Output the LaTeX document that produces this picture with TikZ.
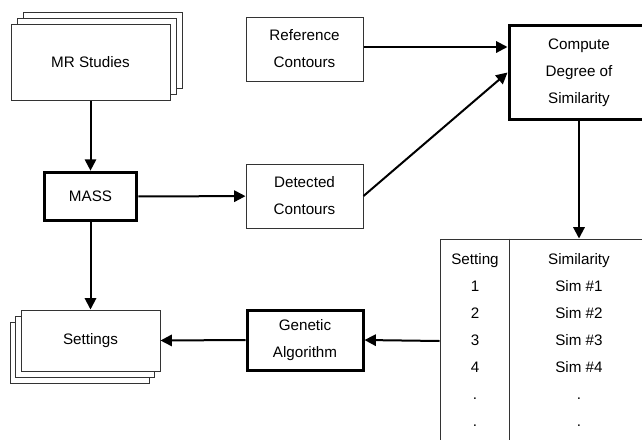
\documentclass[tikz,border=0pt]{standalone}
\usepackage{fontspec}
\setmainfont{Liberation Sans}
\usetikzlibrary{arrows.meta,shadows}

\tikzset{
  box/.style={draw=black!80, line width=0.75pt, fill=white, align=center,
    inner sep=0pt, font=\fontsize{11.4}{20.25}\selectfont},
  boldbox/.style={box, draw=black, line width=2.25pt},
  cell/.style={anchor=base, inner sep=0pt, font=\fontsize{11.4}{20.25}\selectfont},
  link/.style={line width=1.5pt, -{Triangle[length=8.5pt,width=8.5pt]}},
}

\begin{document}
\begin{tikzpicture}[x=0.75pt, y=-0.75pt]
\clip (0,0) rectangle (642,439);

% left column
\node[box, minimum width=119.25pt, minimum height=57pt,
  double copy shadow={shadow xshift=4.5pt, shadow yshift=4.5pt}] (mr) at (90.5,62) {MR Studies};
\node[boldbox, minimum width=69.5pt, minimum height=36.5pt] (mass) at (90.5,196.5) {MASS};
\node[box, minimum width=104.25pt, minimum height=45.75pt,
  double copy shadow={shadow xshift=-4pt, shadow yshift=-4.5pt}] (set) at (90.5,340.5) {Settings};

% middle column
\node[box, minimum width=87.75pt, minimum height=48pt] (ref) at (304.5,49) {Reference\\Contours};
\node[box, minimum width=87.75pt, minimum height=48pt] (det) at (304.5,196) {Detected\\Contours};
\node[boldbox, minimum width=87pt, minimum height=45pt] (gen) at (305,340) {Genetic\\Algorithm};

% right column
\node[boldbox, minimum width=105pt, minimum height=71pt] (comp) at (579,72.5) {Compute\\Degree of\\Similarity};
\node[box, minimum width=156.75pt, minimum height=153pt] (tbl) at (544.5,341) {};
\draw[draw=black!80, line width=0.75pt] (tbl.north -| 509,0) -- (tbl.south -| 509,0);
\foreach \s/\m [count=\i from 0] in {Setting/Similarity, 1/Sim \#1, 2/Sim \#2,
    3/Sim \#3, 4/Sim \#4, ./., ./.} {
  \node[cell] (set\i) at (475,{264.5+27*\i}) {\s};
  \node[cell] (sim\i) at (579,{264.5+27*\i}) {\m};
}

\draw[link] (mr) -- (mass);
\draw[link] (mass) -- (set);
\draw[link] (mass) -- (det);
\draw[link] (ref.east |- 0,47) -- (comp.west |- 0,47);
\draw[link] (det.east) -- (comp.west);
\draw[link] (comp.south) -- (comp.south |- tbl.north);
\draw[link] (tbl.west) -- (gen.east);
\draw[link] (gen.west) -- (set.east);

\end{tikzpicture}
\end{document}
